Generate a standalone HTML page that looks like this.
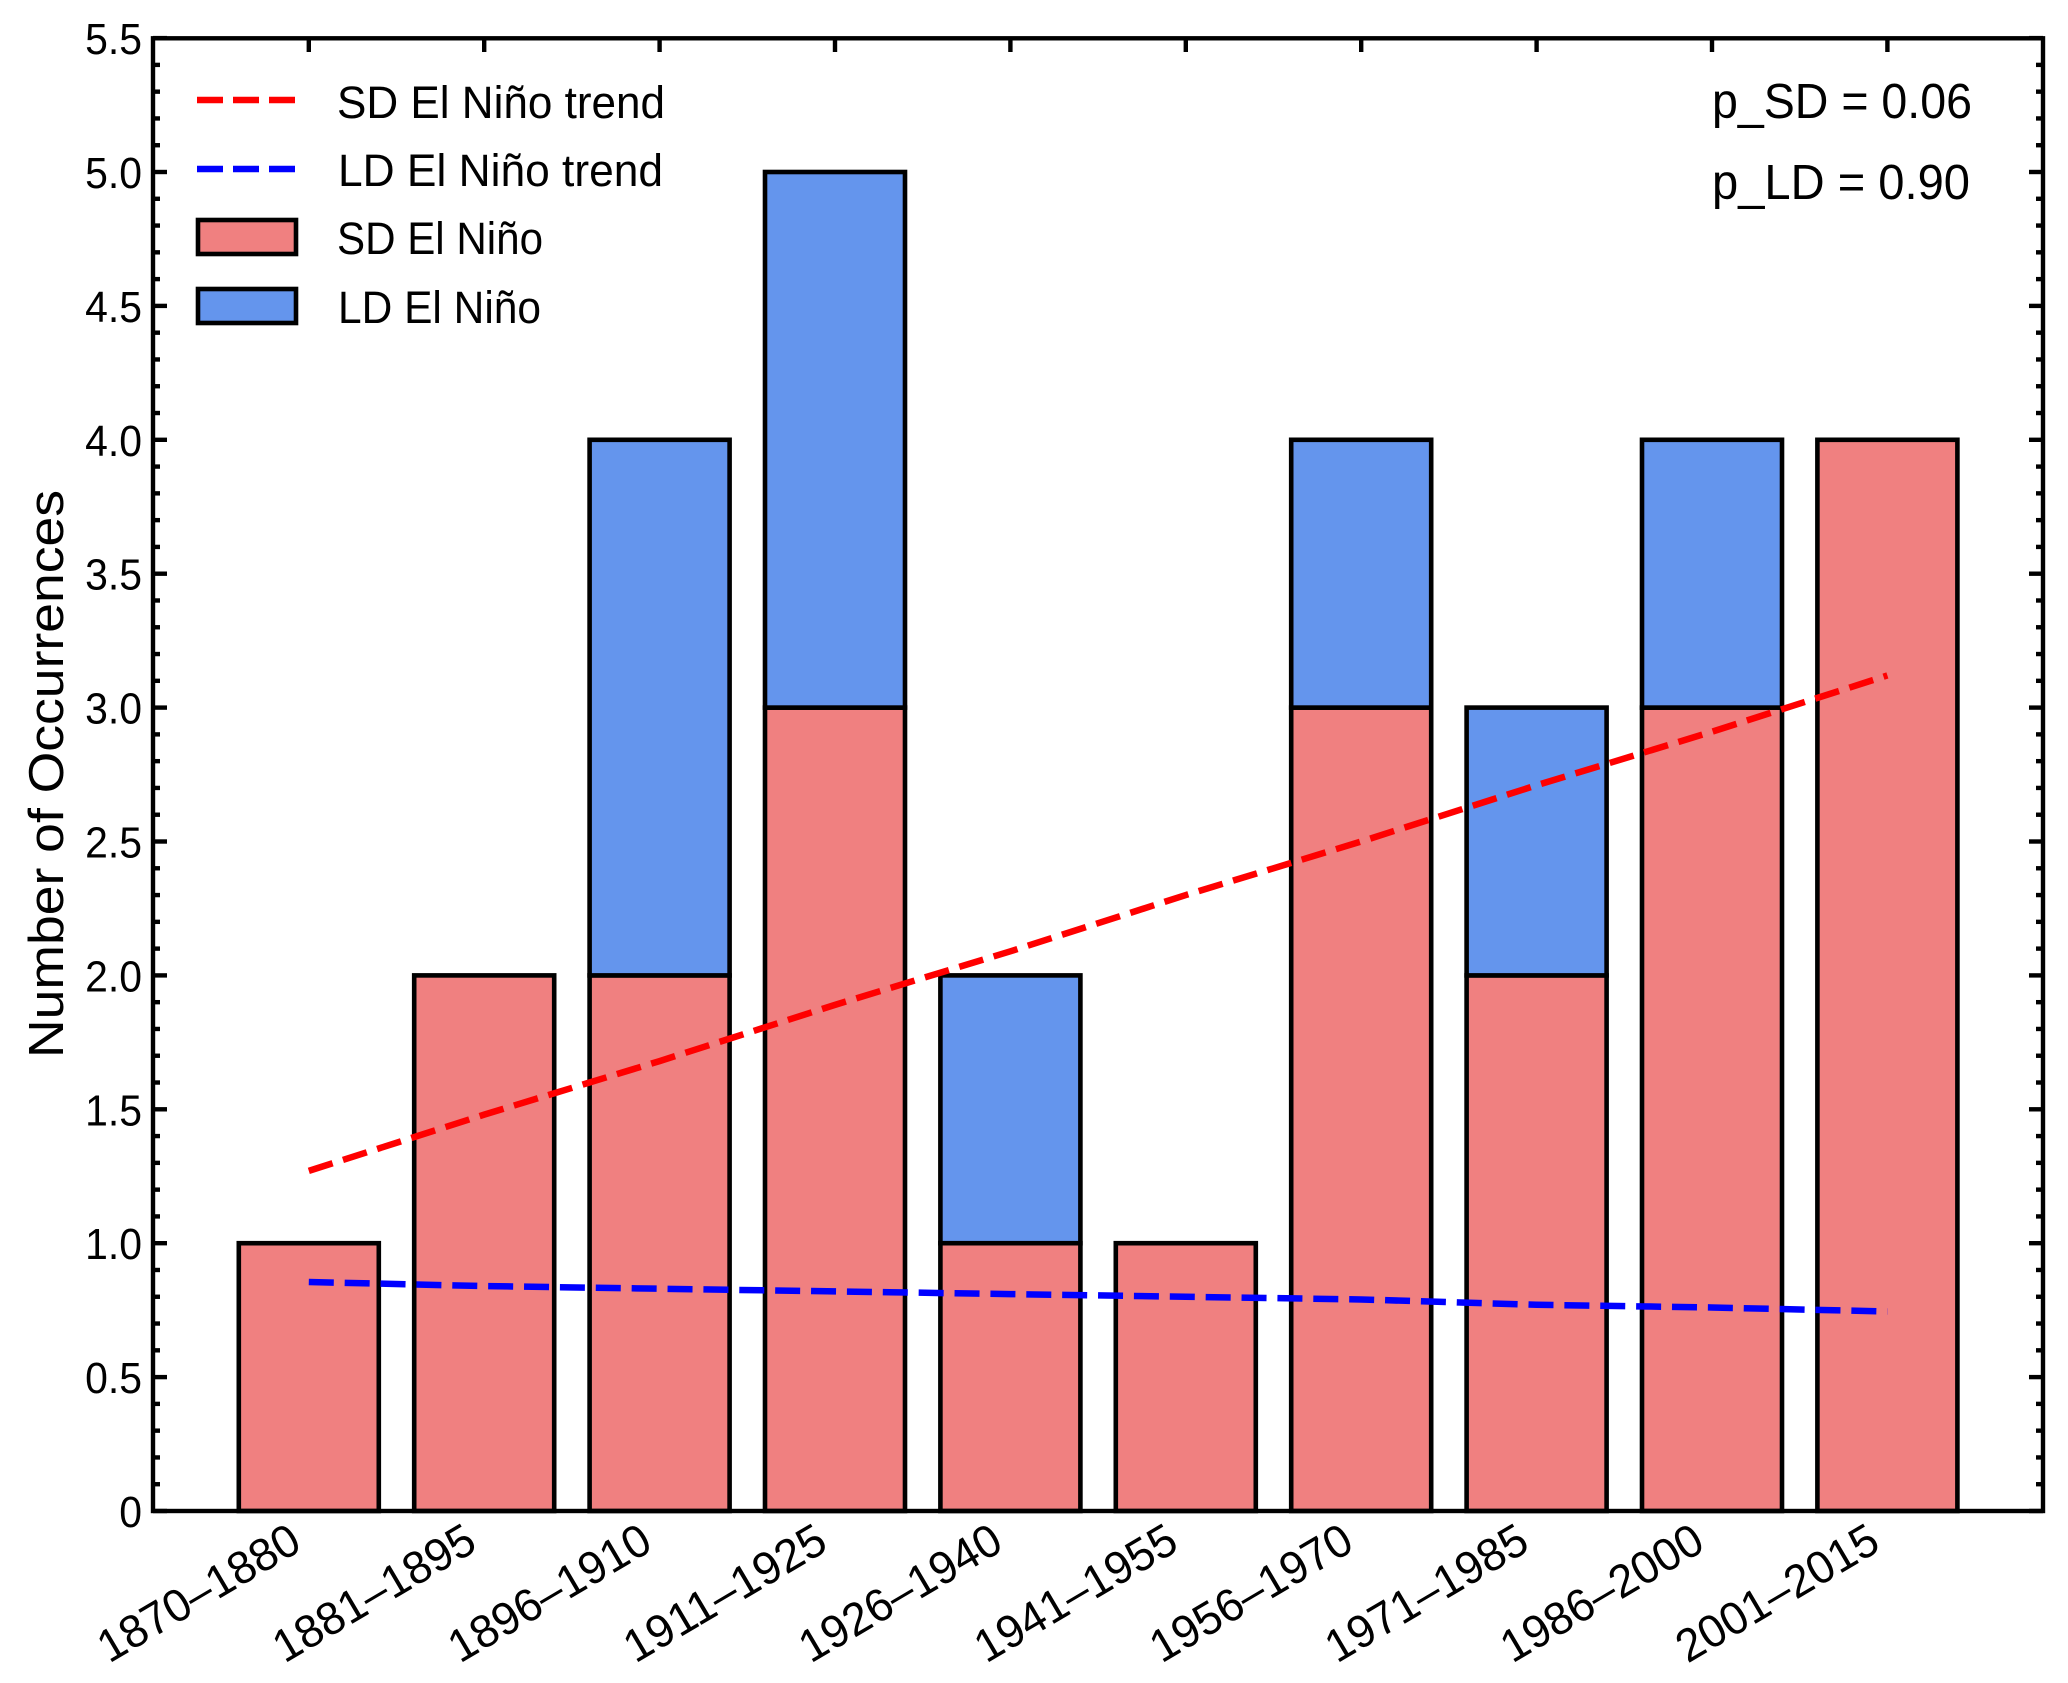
<!DOCTYPE html>
<html lang="en">
<head>
<meta charset="utf-8">
<title>El Niño occurrences by period</title>
<style>
html,body{margin:0;padding:0;background:#fff;width:2068px;height:1683px;overflow:hidden}
svg{display:block}
text{font-family:"Liberation Sans",sans-serif;fill:#000}
</style>
</head>
<body>
<svg id="chart" xmlns="http://www.w3.org/2000/svg" width="2068" height="1683" viewBox="0 0 2068 1683">
<rect x="0" y="0" width="2068" height="1683" fill="#fff"/>
<g id="grid-ticks"></g>
<g id="bars"></g>
<g id="trends"></g>
<rect x="153" y="38.3" width="1890" height="1472.7" fill="none" stroke="#000" stroke-width="4.4"/>
<g id="y-labels" font-size="44" text-anchor="end"></g>
<g id="x-labels" font-size="46" text-anchor="end"></g>
<text transform="translate(63,774) rotate(-90)" text-anchor="middle" font-size="49" textLength="568" lengthAdjust="spacingAndGlyphs">Number of Occurrences</text>
<g>
<line x1="197" y1="100" x2="295" y2="100" stroke="#ff0000" stroke-width="6.5" stroke-dasharray="26,10"/>
<text x="337" y="118" font-size="45" textLength="328" lengthAdjust="spacingAndGlyphs">SD El Niño trend</text>
<line x1="197" y1="169" x2="295" y2="169" stroke="#0000ff" stroke-width="6.5" stroke-dasharray="26,10"/>
<text x="338" y="186" font-size="45" textLength="325" lengthAdjust="spacingAndGlyphs">LD El Niño trend</text>
<rect x="198" y="220" width="98" height="34" fill="#F08080" stroke="#000" stroke-width="4.6"/>
<text x="337" y="254" font-size="45" textLength="206" lengthAdjust="spacingAndGlyphs">SD El Niño</text>
<rect x="198" y="289" width="98" height="34" fill="#6495ED" stroke="#000" stroke-width="4.6"/>
<text x="338" y="323" font-size="45" textLength="203" lengthAdjust="spacingAndGlyphs">LD El Niño</text>
</g>
<text x="1712" y="118" font-size="49" textLength="260" lengthAdjust="spacingAndGlyphs">p_SD = 0.06</text>
<text x="1712" y="199" font-size="49" textLength="258" lengthAdjust="spacingAndGlyphs">p_LD = 0.90</text>
</svg>
<script>
const categories = ["1870–1880","1881–1895","1896–1910","1911–1925","1926–1940","1941–1955","1956–1970","1971–1985","1986–2000","2001–2015"];
const sdCounts = [1,2,2,3,1,1,3,2,3,4];
const ldCounts = [0,0,2,2,1,0,1,1,1,0];
const sdTrend = [1.27,1.48,1.68,1.89,2.09,2.30,2.50,2.71,2.91,3.12];
const ldTrend = [0.855,0.84,0.83,0.82,0.81,0.80,0.79,0.77,0.76,0.745];
const yTickValues = [0,0.5,1,1.5,2,2.5,3,3.5,4,4.5,5,5.5];
const yTickLabels = ["0","0.5","1.0","1.5","2.0","2.5","3.0","3.5","4.0","4.5","5.0","5.5"];

const NS = "http://www.w3.org/2000/svg";
const xScale = i => 308.8 + 175.4 * i;
const yScale = v => 1511 - 267.8 * v;
const barWidth = 140;

function make(tag, attrs, parent) {
  const el = document.createElementNS(NS, tag);
  for (const k in attrs) el.setAttribute(k, attrs[k]);
  parent.appendChild(el);
  return el;
}

const ticks = document.getElementById("grid-ticks");
const tickStyle = {stroke: "#000", "stroke-width": 4.4};
for (let n = 0; n <= 55; n++) {
  const y = yScale(n / 10);
  const len = n % 5 === 0 ? 14 : 7;
  const left = make("line", {x1: 153, x2: 153 + len, y1: y, y2: y, ...tickStyle}, ticks);
  
  
  const right = make("line", {x1: 2043, x2: 2043 - len, y1: y, y2: y, ...tickStyle}, ticks);
  
  
}
categories.forEach((c, i) => {
  const x = xScale(i);
  const top = make("line", {x1: x, x2: x, y1: 38.3, y2: 52, ...tickStyle}, ticks);
  
  
});

const bars = document.getElementById("bars");
categories.forEach((c, i) => {
  const x = xScale(i) - barWidth / 2;
  const sd = sdCounts[i];
  const ld = ldCounts[i];
  if (sd > 0) {
    const r = make("rect", {x: x, y: yScale(sd), width: barWidth, height: yScale(0) - yScale(sd), fill: "#F08080", stroke: "#000", "stroke-width": 4.6}, bars);
    
    
  }
  if (ld > 0) {
    const r = make("rect", {x: x, y: yScale(sd + ld), width: barWidth, height: yScale(sd) - yScale(sd + ld), fill: "#6495ED", stroke: "#000", "stroke-width": 4.6}, bars);
    
    
  }
});

const trends = document.getElementById("trends");
function trendPoints(series) {
  return series.map((v, i) => xScale(i) + "," + yScale(v)).join(" ");
}
const sdLine = make("polyline", {points: trendPoints(sdTrend), fill: "none", stroke: "#ff0000", "stroke-width": 6.5, "stroke-dasharray": "25,10.88"}, trends);


const ldLine = make("polyline", {points: trendPoints(ldTrend), fill: "none", stroke: "#0000ff", "stroke-width": 6.5, "stroke-dasharray": "25,10.88"}, trends);



const yLabels = document.getElementById("y-labels");
yTickValues.forEach((v, i) => {
  const t = make("text", {transform: "translate(142," + (yScale(v) + 16) + ") scale(0.93,1)"}, yLabels);
  t.textContent = yTickLabels[i];
  
  
});

const xLabels = document.getElementById("x-labels");
categories.forEach((c, i) => {
  const t = make("text", {transform: "translate(" + (xScale(i) - 5) + ",1549) rotate(-30.5)", textLength: 226, lengthAdjust: "spacingAndGlyphs"}, xLabels);
  t.textContent = c;
  
  
});
</script>
</body>
</html>
